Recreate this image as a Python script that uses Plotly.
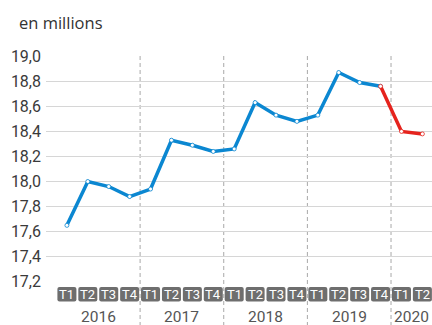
import plotly.graph_objects as go

years = ["2016", "2017", "2018", "2019", "2020"]
quarters_per_year = [4, 4, 4, 4, 2]
quarter_labels = ["T1", "T2", "T3", "T4", "T1", "T2", "T3", "T4", "T1", "T2", "T3", "T4",
                  "T1", "T2", "T3", "T4", "T1", "T2"]
values = [17.65, 18.00, 17.96, 17.88, 17.94, 18.33, 18.29, 18.24, 18.26, 18.63,
          18.53, 18.48, 18.53, 18.87, 18.79, 18.76, 18.40, 18.38]
red_start = 15  # index where the red (latest) segment starts
y_ticks = [17.2, 17.4, 17.6, 17.8, 18.0, 18.2, 18.4, 18.6, 18.8, 19.0]

BLUE = "#0b87d1"
RED = "#e5231d"
BOX = "#6e6e6e"
FONT_NUM = "Roboto, Liberation Sans Narrow, sans-serif"

idx = list(range(len(values)))

fig = go.Figure()
fig.add_trace(go.Scatter(
    x=idx[:red_start + 1], y=values[:red_start + 1], mode="lines+markers",
    line=dict(color=BLUE, width=3.5),
    marker=dict(size=4, color="white", line=dict(color=BLUE, width=0.8)),
    hoverinfo="skip", showlegend=False))
fig.add_trace(go.Scatter(
    x=idx[red_start:], y=values[red_start:], mode="lines+markers",
    line=dict(color=RED, width=3.5),
    marker=dict(size=4, color="white", line=dict(color=RED, width=0.8)),
    hoverinfo="skip", showlegend=False))

shapes = []
annotations = []

# year separators
pos = 0
bounds = []
for n in quarters_per_year:
    bounds.append((pos, pos + n - 1))
    pos += n
for (a, b) in bounds[:-1]:
    shapes.append(dict(type="line", xref="x", yref="paper", x0=b + 0.5, x1=b + 0.5,
                       y0=1, y1=-0.2, line=dict(color="#a8a8a8", width=1, dash="4px,3px"),
                       layer="below"))

# quarter boxes
hw = 0.455
y_top, y_bot = -0.0225, -0.0865
rx, ry = 0.1, 0.009
for i, lab in enumerate(quarter_labels):
    x0, x1 = i - hw, i + hw
    path = (f"M {x0+rx},{y_top} L {x1-rx},{y_top} Q {x1},{y_top} {x1},{y_top-ry} "
            f"L {x1},{y_bot+ry} Q {x1},{y_bot} {x1-rx},{y_bot} L {x0+rx},{y_bot} "
            f"Q {x0},{y_bot} {x0},{y_bot+ry} L {x0},{y_top-ry} Q {x0},{y_top} {x0+rx},{y_top} Z")
    shapes.append(dict(type="path", xref="x", yref="paper", path=path,
                       fillcolor=BOX, line=dict(width=0)))
    annotations.append(dict(x=i, y=(y_top + y_bot) / 2, xref="x", yref="paper",
                            text=lab, showarrow=False, xanchor="center", yanchor="middle",
                            font=dict(family=FONT_NUM, size=13, color="white")))

# year labels
for yr, (a, b) in zip(years, bounds):
    annotations.append(dict(x=(a + b) / 2, y=-0.157, xref="x", yref="paper", text=yr,
                            showarrow=False, xanchor="center", yanchor="middle",
                            font=dict(family=FONT_NUM, size=15.5, color="#555555")))

annotations.append(dict(x=(17 - 46) / 386, y=1 + (56 - 22) / 226, xref="paper", yref="paper",
                        text="en millions", showarrow=False, xanchor="left", yanchor="middle",
                        font=dict(family="Open Sans, sans-serif", size=16.5, color="#333333")))

fig.update_layout(
    width=432, height=325,
    margin=dict(l=46, r=0, t=56, b=43),
    paper_bgcolor="white", plot_bgcolor="white",
    shapes=shapes, annotations=annotations,
    xaxis=dict(range=[-1.0, 17.46], showgrid=False, zeroline=False, showticklabels=False,
               showline=False, fixedrange=True),
    yaxis=dict(range=[17.198, 19.002], tickvals=y_ticks,
               ticktext=[f"{v:.1f}".replace(".", ",") for v in y_ticks],
               showgrid=True, gridcolor="#d6d6d6", gridwidth=1.3, zeroline=False,
               showline=False, ticks="", ticklabelstandoff=4,
               tickfont=dict(family=FONT_NUM, size=16, color="#3a3a3a"), fixedrange=True),
)

fig.write_html("out.html", config={"displayModeBar": False})
